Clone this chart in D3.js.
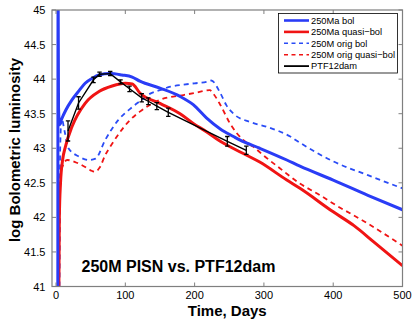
<!DOCTYPE html>
<html><head><meta charset="utf-8">
<script src="https://cdn.jsdelivr.net/npm/d3@7"></script>
<style>body{margin:0;background:#fff} svg{display:block} text{font-family:"Liberation Sans",Arial,Helvetica,sans-serif}</style>
</head><body><svg id="c" width="415" height="322"></svg>
<script>
// ---- data ----
const xTicks = [0, 100, 200, 300, 400, 500];
const yTicks = [41, 41.5, 42, 42.5, 43, 43.5, 44, 44.5, 45];
const yTickLabels = ["41", "41.5", "42", "42.5", "43", "43.5", "44", "44.5", "45"];
const seriesNames = ["250Ma bol", "250Ma quasi\u2212bol", "250M orig bol", "250M orig quasi\u2212bol", "PTF12dam"];

const blueSolidT = [2.6, 3.0, 3.6, 5, 8, 14, 23, 33, 42, 52, 62, 78, 95, 110, 121, 150, 179, 198, 217, 237, 256, 265, 294, 333, 352, 400, 450, 500];
const blueSolidL = [40.8, 45.5, 43.6, 43.34, 43.42, 43.55, 43.70, 43.83, 43.94, 44.01, 44.06, 44.08, 44.06, 44.03, 43.97, 43.87, 43.75, 43.63, 43.44, 43.28, 43.17, 43.12, 43.0, 42.83, 42.74, 42.54, 42.32, 42.11];

const redSolidT = [4, 4.8, 6.5, 9.5, 13.5, 23, 42, 62, 81, 100, 110, 121, 150, 179, 198, 217, 237, 265, 294, 333, 352, 400, 430, 458, 500];
const redSolidL = [40.8, 42.0, 42.5, 42.83, 43.02, 43.31, 43.65, 43.82, 43.90, 43.94, 43.93, 43.8, 43.65, 43.5, 43.36, 43.24, 43.1, 42.95, 42.8, 42.54, 42.42, 42.08, 41.88, 41.65, 41.3];

const blueDashT = [5, 6, 8, 12.5, 18, 33, 47, 57, 71, 90, 107, 121, 136, 150, 165, 184, 200, 217, 224, 237, 246, 256, 280, 304, 338, 352, 400, 450, 500];
const blueDashL = [41, 43.0, 43.43, 43.24, 43.0, 42.88, 42.83, 42.85, 43.12, 43.41, 43.57, 43.68, 43.79, 43.84, 43.89, 43.92, 43.94, 43.96, 43.98, 43.8, 43.62, 43.5, 43.38, 43.31, 43.17, 43.08, 42.81, 42.61, 42.42];

const redDashT = [4.5, 5.5, 7, 10, 16, 30, 40, 50, 56, 63, 71, 80, 107, 121, 150, 184, 200, 222, 227, 237, 251, 270, 285, 299, 323, 352, 381, 400, 450, 500];
const redDashL = [41, 42.4, 42.65, 42.75, 42.83, 42.79, 42.74, 42.68, 42.66, 42.72, 42.9, 43.05, 43.41, 43.53, 43.70, 43.77, 43.8, 43.84, 43.79, 43.63, 43.36, 43.12, 43.02, 42.9, 42.71, 42.49, 42.32, 42.2, 41.91, 41.59];

const ptfDays = [17.3, 32.5, 54.1, 62.8, 78.2, 93.1, 106.1, 123.7, 133.2, 145.5, 162, 247.2, 274.6];
const ptfLum  = [43.25, 43.655, 43.99, 44.07, 44.08, 43.96, 43.86, 43.73, 43.68, 43.61, 43.52, 43.10, 42.97];
const ptfErr  = [0.145, 0.09, 0.04, 0.03, 0.03, 0.03, 0.04, 0.06, 0.05, 0.05, 0.06, 0.07, 0.06];

// ---- layout ----
const W = 415, H = 322;
const x0 = 52, x1 = 402.5, y0 = 10, y1 = 286.5;
const svg = d3.select("#c");
const x = d3.scaleLinear().domain([-5.8, 500]).range([x0, x1]);
const y = d3.scaleLinear().domain([41, 45]).range([y1, y0]);

svg.append("rect").attr("width", W).attr("height", H).attr("fill", "#fff");
svg.append("defs").append("clipPath").attr("id", "clip")
  .append("rect").attr("x", x0).attr("y", y0).attr("width", x1 - x0).attr("height", y1 - y0);

const series = [
  {name: seriesNames[0], t: blueSolidT, v: blueSolidL, color: "#2a3cf6", w: 3, dash: null},
  {name: seriesNames[1], t: redSolidT, v: redSolidL, color: "#f01414", w: 3, dash: null},
  {name: seriesNames[2], t: blueDashT, v: blueDashL, color: "#2a4cf6", w: 1.8, dash: "5,4"},
  {name: seriesNames[3], t: redDashT, v: redDashL, color: "#f01414", w: 1.8, dash: "5,4"}
];

const line = d3.line().x(d => x(d[0])).y(d => y(d[1])).curve(d3.curveMonotoneX);
const g = svg.append("g").attr("clip-path", "url(#clip)");
series.slice().reverse().forEach(s => {
  g.append("path").datum(s.t.map((t, i) => [t, s.v[i]]))
    .attr("d", line).attr("fill", "none").attr("stroke", s.color)
    .attr("stroke-width", s.w).attr("stroke-dasharray", s.dash)
    .attr("stroke-linejoin", "round");
});

// PTF12dam
const ptf = ptfDays.map((t, i) => [t, ptfLum[i], ptfErr[i]]);
g.append("path").datum(ptf).attr("d", d3.line().x(d => x(d[0])).y(d => y(d[1])))
  .attr("fill", "none").attr("stroke", "#000").attr("stroke-width", 1.4);
const eb = g.append("g").attr("stroke", "#000").attr("stroke-width", 1.3);
ptf.forEach(d => {
  const cx = x(d[0]), ya = y(d[1] + d[2]), yb = y(d[1] - d[2]);
  eb.append("line").attr("x1", cx).attr("x2", cx).attr("y1", ya).attr("y2", yb);
  eb.append("line").attr("x1", cx - 2.2).attr("x2", cx + 2.2).attr("y1", ya).attr("y2", ya);
  eb.append("line").attr("x1", cx - 2.2).attr("x2", cx + 2.2).attr("y1", yb).attr("y2", yb);
});

// axes (matlab-like box, inward ticks)
const axisColor = "#7f7f7f";
const ax = svg.append("g");
ax.append("rect").attr("x", x0).attr("y", y0).attr("width", x1 - x0).attr("height", y1 - y0)
  .attr("fill", "none").attr("stroke", axisColor).attr("stroke-width", 1.2);
const tl = 4;
xTicks.forEach(t => {
  const px = x(t);
  ax.append("line").attr("x1", px).attr("x2", px).attr("y1", y1).attr("y2", y1 - tl).attr("stroke", axisColor);
  ax.append("line").attr("x1", px).attr("x2", px).attr("y1", y0).attr("y2", y0 + tl).attr("stroke", axisColor);
  ax.append("text").attr("x", px).attr("y", 298.5).attr("text-anchor", "middle")
    .attr("font-size", 11).attr("fill", "#000").text(t);
});
yTicks.forEach((t, i) => {
  const py = y(t);
  ax.append("line").attr("x1", x0).attr("x2", x0 + tl).attr("y1", py).attr("y2", py).attr("stroke", axisColor);
  ax.append("line").attr("x1", x1).attr("x2", x1 - tl).attr("y1", py).attr("y2", py).attr("stroke", axisColor);
  ax.append("text").attr("x", 45.5).attr("y", py + 4).attr("text-anchor", "end")
    .attr("font-size", 11).attr("fill", "#000").text(yTickLabels[i]);
});

// labels
svg.append("text").attr("x", (x0 + x1) / 2).attr("y", 316).attr("text-anchor", "middle")
  .attr("font-size", 15).attr("font-weight", "bold").text("Time, Days");
svg.append("text").attr("transform", "translate(20,150) rotate(-90)").attr("text-anchor", "middle")
  .attr("font-size", 15).attr("font-weight", "bold").text("log Bolometric luminosity");
svg.append("text").attr("x", 81.5).attr("y", 272).attr("font-size", 16).attr("font-weight", "bold")
  .text("250M PISN vs. PTF12dam");

// legend
const lg = svg.append("g");
lg.append("rect").attr("x", 278.5).attr("y", 13.5).attr("width", 119).attr("height", 59.5)
  .attr("fill", "#fff").attr("stroke", "#000").attr("stroke-width", 0.8);
const legendItems = series.concat([{name: seriesNames[4], color: "#000", w: 1.8, dash: null}]);
legendItems.forEach((s, i) => {
  const ly = 20.5 + i * 11.4;
  lg.append("line").attr("x1", 284).attr("x2", 309).attr("y1", ly).attr("y2", ly)
    .attr("stroke", s.color).attr("stroke-width", s.dash ? 1.6 : (i < 2 ? 2.6 : 1.8)).attr("stroke-dasharray", s.dash ? "4,3.5" : null);
  lg.append("text").attr("x", 311).attr("y", ly + 3.3).attr("font-size", 9.3).attr("fill", "#000").text(s.name);
});
</script></body></html>
